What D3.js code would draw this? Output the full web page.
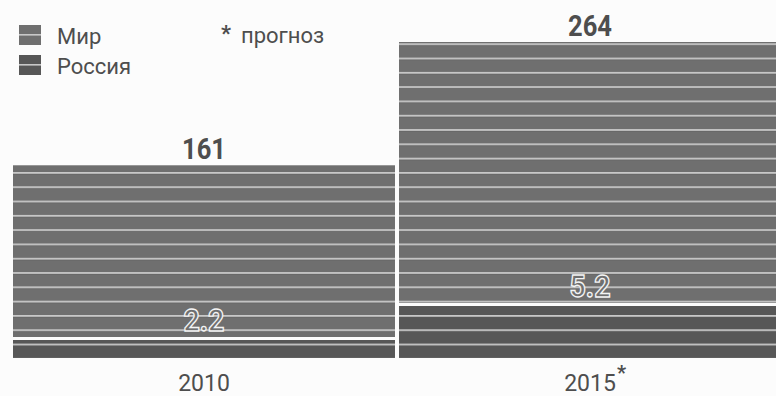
<!DOCTYPE html>
<html><head><meta charset="utf-8">
<script src="https://cdn.jsdelivr.net/npm/d3@7/dist/d3.min.js"></script>
<style>
html,body{margin:0;padding:0;background:#fcfcfc;}
svg{display:block;}
text{font-family:Roboto,"Noto Sans",sans-serif;}
</style></head><body>
<svg id="chart" width="776" height="396"></svg>
<script>
const categories = ["2010", "2015"];
const forecastFlags = [false, true];
const worldValues = [161, 264];
const russiaValues = [2.2, 5.2];
const worldLabels = ["161", "264"];
const russiaLabels = ["2.2", "5.2"];
const legendItems = ["Мир", "Россия"];
const noteText = "прогноз";

const W = 776, H = 396;
const svg = d3.select("#chart");
const worldColor = "#6f6f6f", russiaColor = "#575757", textColor = "#4e4e4e";

const x = d3.scaleBand().domain(categories).range([13, 781]).paddingInner(0.0104).paddingOuter(0);
const y = d3.scaleLinear().domain([0, 264]).range([358, 42]);
// Russia segment is drawn on its own (exaggerated) scale in the source
const rH = d3.scaleLinear().domain([2.2, 5.2]).range([18, 52]);
const gap = 3;

const defs = svg.append("defs");
function stripes(id, color) {
  const p = defs.append("pattern").attr("id", id).attr("patternUnits", "userSpaceOnUse")
    .attr("x", 0).attr("y", 343.6).attr("width", 10).attr("height", 14.3);
  p.append("rect").attr("width", 10).attr("height", 14.3).attr("fill", color);
  p.append("rect").attr("y", 0).attr("width", 10).attr("height", 1.8).attr("fill", "#c8c8c8");
  p.append("rect").attr("y", 1.8).attr("width", 10).attr("height", 0.8).attr("fill", "#5a5a5a").attr("opacity", 0.5);
}
stripes("pw", worldColor);
stripes("pr", russiaColor);

const data = categories.map((c, i) => ({c, w: worldValues[i], r: russiaValues[i], wl: worldLabels[i], rl: russiaLabels[i], f: forecastFlags[i]}));

const g = svg.append("g");
data.forEach(d => {
  const x0 = x(d.c), bw = x.bandwidth();
  const rh = rH(d.r);
  const rTop = y(0) - rh;
  const wBottom = rTop - gap;
  g.append("rect").attr("x", x0).attr("y", y(d.w)).attr("width", bw)
    .attr("height", wBottom - y(d.w)).attr("fill", "url(#pw)");
  g.append("rect").attr("x", x0).attr("y", rTop).attr("width", bw)
    .attr("height", rh).attr("fill", "url(#pr)");
  g.append("text").attr("x", x0 + bw / 2).attr("y", y(d.w) - 6)
    .attr("text-anchor", "middle").attr("font-size", 30).attr("font-weight", 700)
    .attr("fill", textColor).attr("textLength", 44).attr("lengthAdjust", "spacingAndGlyphs")
    .text(d.wl);
  g.append("text").attr("x", x0 + bw / 2).attr("y", wBottom - 6)
    .attr("text-anchor", "middle").attr("font-size", 31).attr("font-weight", 700)
    .attr("fill", worldColor).attr("stroke", "#f4f4f4").attr("stroke-width", 1.4)
    .attr("textLength", 41).attr("lengthAdjust", "spacingAndGlyphs")
    .text(d.rl);
  g.append("text").attr("x", x0 + bw / 2).attr("y", 391)
    .attr("text-anchor", "middle").attr("font-size", 23).attr("fill", textColor)
    .text(d.c);
  if (d.f) {
    g.append("text").attr("x", x0 + bw / 2 + 27).attr("y", 380)
      .attr("font-size", 20).attr("font-weight", 700).attr("fill", textColor).text("*");
  }
});

const leg = svg.append("g");
const legColors = [worldColor, russiaColor];
legendItems.forEach((name, i) => {
  const yy = 25 + i * 30;
  leg.append("rect").attr("x", 19).attr("y", yy).attr("width", 22).attr("height", 20).attr("fill", legColors[i]);
  leg.append("rect").attr("x", 19).attr("y", yy + 9).attr("width", 22).attr("height", 1.6).attr("fill", "#c8c8c8");
  leg.append("text").attr("x", 57).attr("y", yy + 19).attr("font-size", 22).attr("fill", textColor).text(name);
});
leg.append("text").attr("x", 221).attr("y", 41).attr("font-size", 22).attr("font-weight", 700).attr("fill", textColor).text("*");
leg.append("text").attr("x", 241).attr("y", 43).attr("font-size", 22).attr("fill", textColor).text(noteText);
</script>
</body></html>
